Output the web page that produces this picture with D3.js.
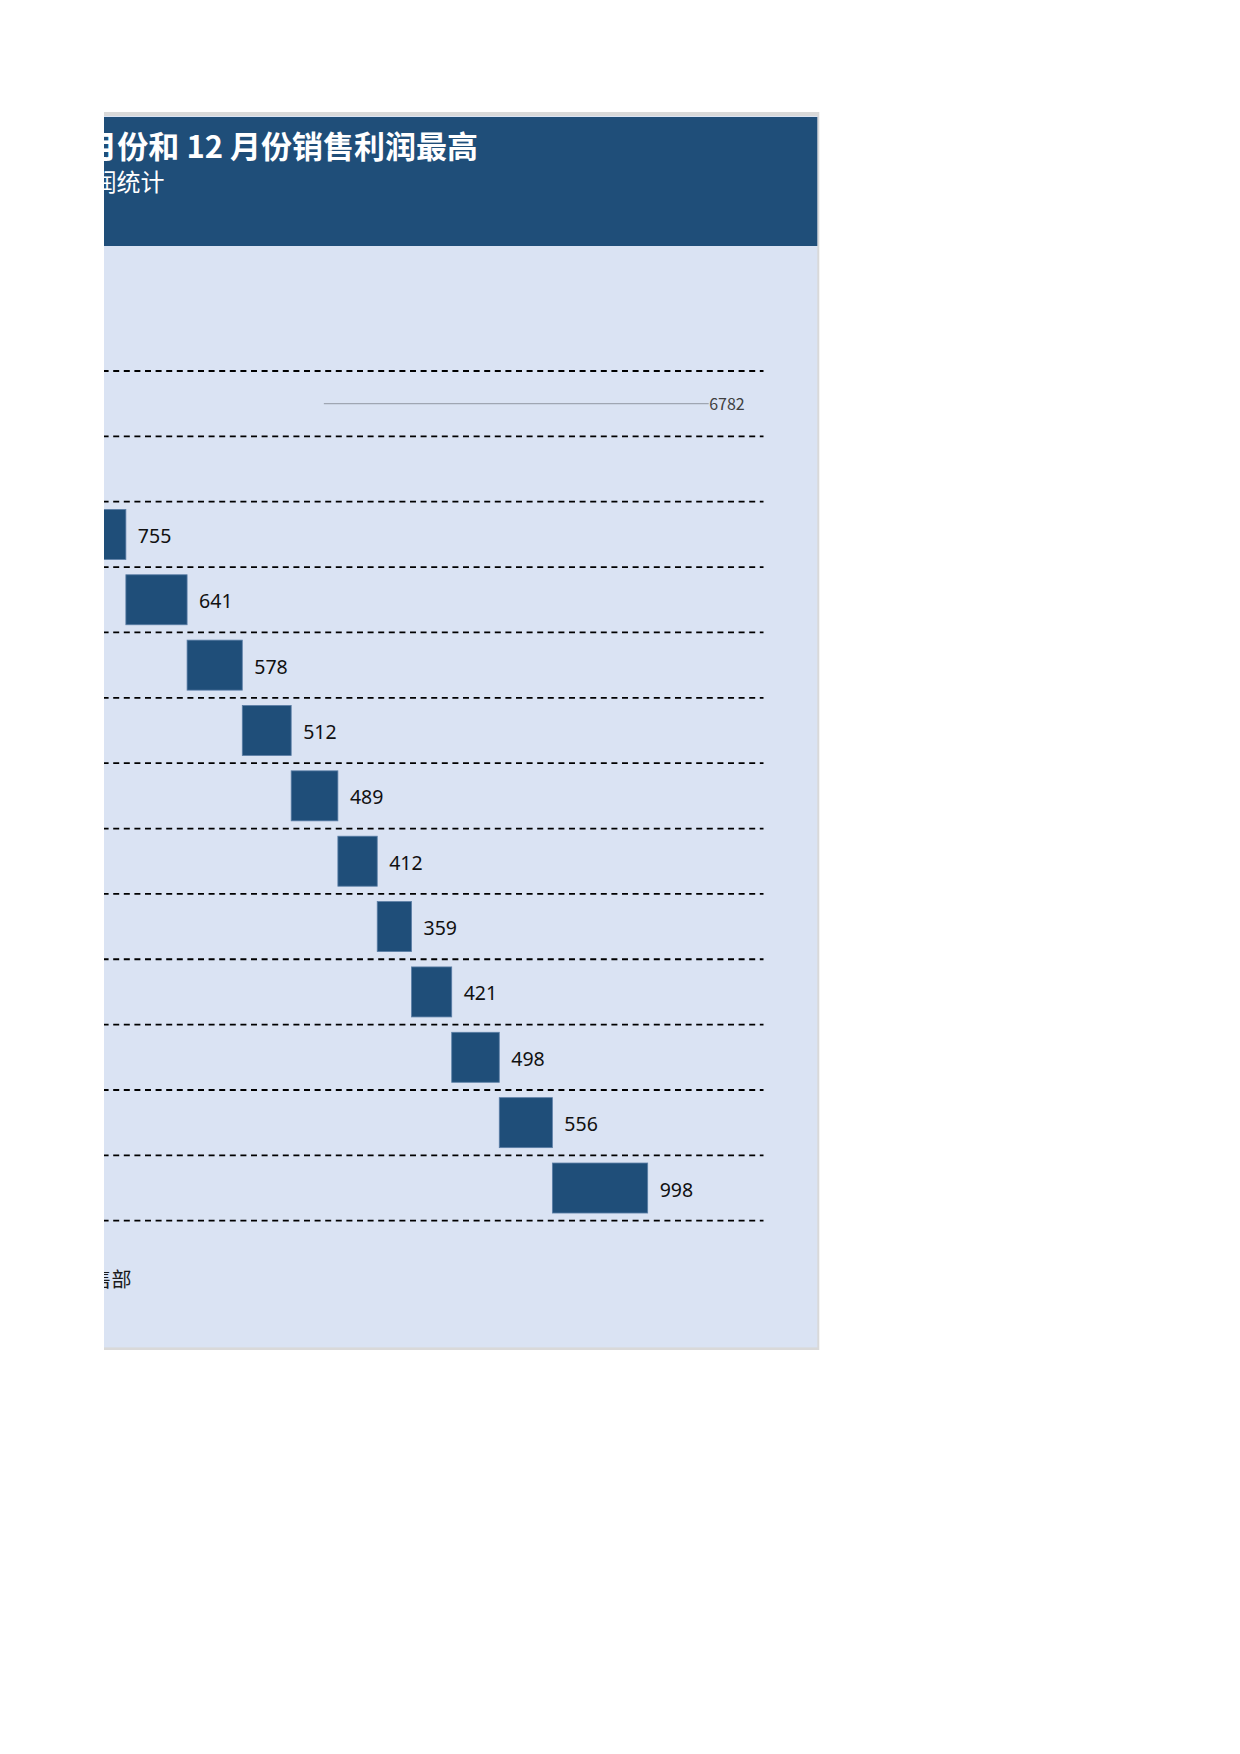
<!DOCTYPE html>
<html>
<head>
<meta charset="utf-8">
<script src="https://cdn.jsdelivr.net/npm/d3@7/dist/d3.min.js"></script>
<style>
  body { margin: 0; background: #ffffff; }
  svg { display: block; }
</style>
</head>
<body>
<svg id="chart" width="1240" height="1754"></svg>
<script>
const categories = ["合计", "1月", "2月", "3月", "4月", "5月", "6月", "7月", "8月", "9月", "10月", "11月", "12月"];
const monthValues = [563, 755, 641, 578, 512, 489, 412, 359, 421, 498, 556, 998];
const totalValue = 6782;
const valueDomain = [0, 8000];
const titleText = "1 月份和 12 月份销售利润最高";
const subtitleText = "各月份销售利润统计";
const sourceText = "数据来源：销售部";

const fontFamily = "'Noto Sans CJK SC', 'Noto Sans', sans-serif";
const numberFont = "'Noto Sans', 'Open Sans', sans-serif";
const svg = d3.select("#chart");

// the page cuts the left part of the chart away
svg.append("defs").append("clipPath")
  .attr("id", "page-clip")
  .append("rect")
  .attr("x", 104).attr("y", 0)
  .attr("width", 1136).attr("height", 1754);

const mainGroup = svg.append("g").attr("clip-path", "url(#page-clip)");

// panel, border and header
mainGroup.append("rect")
  .attr("x", -300).attr("y", 112)
  .attr("width", 1119.3).attr("height", 1238)
  .attr("fill", "#d9d9d9");
mainGroup.append("rect")
  .attr("x", -300).attr("y", 116)
  .attr("width", 1117.3).attr("height", 1231.4)
  .attr("fill", "#dae3f3");
mainGroup.append("rect")
  .attr("x", -300).attr("y", 117)
  .attr("width", 1117.3).attr("height", 129)
  .attr("fill", "#1f4e79");

mainGroup.append("text")
  .attr("x", 478).attr("y", 158)
  .attr("text-anchor", "end")
  .attr("font-family", fontFamily)
  .attr("font-size", 31)
  .attr("font-weight", "bold")
  .attr("fill", "#ffffff")
  .text(titleText);

mainGroup.append("text")
  .attr("x", 164.5).attr("y", 191)
  .attr("text-anchor", "end")
  .attr("font-family", fontFamily)
  .attr("font-size", 24)
  .attr("fill", "#ffffff")
  .text(subtitleText);

mainGroup.append("text")
  .attr("x", 131.5).attr("y", 1287)
  .attr("text-anchor", "end")
  .attr("font-family", fontFamily)
  .attr("font-size", 20)
  .attr("fill", "#1a1a1a")
  .text(sourceText);

// waterfall rows
let running = 0;
const rows = [{ cat: categories[0], start: 0, end: totalValue, value: totalValue, total: true }];
monthValues.forEach((v, i) => {
  rows.push({ cat: categories[i + 1], start: running, end: running + v, value: v, total: false });
  running += v;
});

const xScale = d3.scaleLinear().domain(valueDomain).range([0, 764]);
const yScale = d3.scaleBand().domain(categories).range([371, 1220.7]);
const barHeight = yScale.bandwidth() * 0.765;
const barOffset = (yScale.bandwidth() - barHeight) / 2;

const bounds = categories.map(c => yScale(c)).concat([yScale.range()[1]]);
mainGroup.append("g")
  .selectAll("line")
  .data(bounds)
  .enter()
  .append("line")
  .attr("x1", xScale(valueDomain[0]) - 120)
  .attr("x2", xScale(valueDomain[1]) - 0.5)
  .attr("y1", d => d)
  .attr("y2", d => d)
  .attr("stroke", "#000000")
  .attr("stroke-width", 1.8)
  .attr("stroke-dasharray", "6 4.6");

const monthRows = rows.filter(d => !d.total);
mainGroup.append("g")
  .selectAll("rect")
  .data(monthRows)
  .enter()
  .append("rect")
  .attr("x", d => xScale(d.start))
  .attr("y", d => yScale(d.cat) + barOffset)
  .attr("width", d => xScale(d.end) - xScale(d.start))
  .attr("height", barHeight)
  .attr("fill", "#1f4e79")
  .attr("stroke", "#5b7ea6")
  .attr("stroke-width", 0.8);

mainGroup.append("g")
  .selectAll("text")
  .data(monthRows)
  .enter()
  .append("text")
  .attr("x", d => xScale(d.end) + 12)
  .attr("y", d => yScale(d.cat) + yScale.bandwidth() / 2 + 8.5)
  .attr("font-family", numberFont)
  .attr("font-size", 19.5)
  .attr("fill", "#111111")
  .text(d => d.value);

// total bar has no fill, its label is pulled out with a leader line
const totalRow = rows[0];
const totalMid = yScale(totalRow.cat) + yScale.bandwidth() / 2;
mainGroup.append("rect")
  .attr("x", xScale(totalRow.start))
  .attr("y", yScale(totalRow.cat) + barOffset)
  .attr("width", xScale(totalRow.end) - xScale(totalRow.start))
  .attr("height", barHeight)
  .attr("fill", "none");
mainGroup.append("line")
  .attr("x1", xScale((totalRow.start + totalRow.end) / 2))
  .attr("x2", xScale(totalRow.end) + 61)
  .attr("y1", totalMid)
  .attr("y2", totalMid)
  .attr("stroke", "#9fa6b2")
  .attr("stroke-width", 1.3);
mainGroup.append("text")
  .attr("x", xScale(totalRow.end) + 61.5)
  .attr("y", totalMid + 6)
  .attr("font-family", fontFamily)
  .attr("font-size", 16)
  .attr("fill", "#404040")
  .text(totalRow.value);
</script>
</body>
</html>
